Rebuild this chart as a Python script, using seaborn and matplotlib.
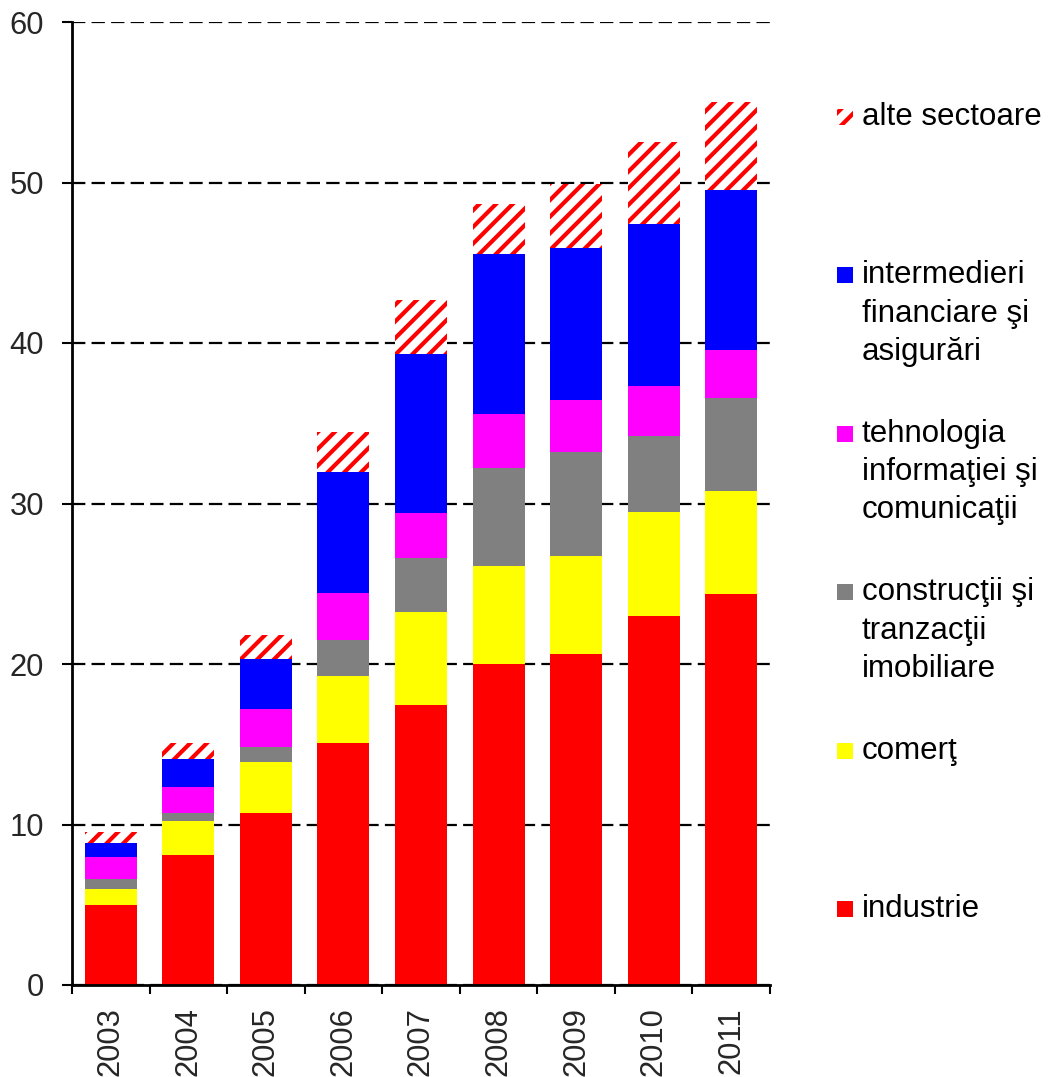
import matplotlib
matplotlib.use("Agg")
import matplotlib.pyplot as plt
from matplotlib.patches import Rectangle
import seaborn as sns
import numpy as np
import pandas as pd

years = ["2003", "2004", "2005", "2006", "2007", "2008", "2009", "2010", "2011"]
industrie = [4.97, 8.07, 10.69, 15.06, 17.43, 20.02, 20.62, 23.01, 24.38]
comert = [1.00, 2.14, 3.19, 4.22, 5.83, 6.10, 6.12, 6.47, 6.37]
constructii = [0.61, 0.48, 0.93, 2.24, 3.36, 6.10, 6.48, 4.73, 5.83]
tehnologia = [1.39, 1.63, 2.37, 2.88, 2.76, 3.38, 3.25, 3.13, 3.00]
financiare = [0.86, 1.75, 3.11, 7.55, 9.94, 9.96, 9.46, 10.09, 9.96]
alte = [0.72, 0.99, 1.49, 2.53, 3.36, 3.11, 3.99, 5.10, 5.48]

series_labels = ["industrie", "comerţ", "construcţii şi\ntranzacţii\nimobiliare",
                 "tehnologia\ninformaţiei şi\ncomunicaţii",
                 "intermedieri\nfinanciare şi\nasigurări", "alte sectoare"]
series_values = [industrie, comert, constructii, tehnologia, financiare, alte]
series_colors = ["#FF0000", "#FFFF00", "#808080", "#FF00FF", "#0000FF", "white"]
yticks = [0, 10, 20, 30, 40, 50, 60]

sns.set_theme(style="white")
plt.rcParams["font.family"] = ["Liberation Sans", "DejaVu Sans"]
plt.rcParams["hatch.linewidth"] = 3.0

W, H = 1048, 1077
fig = plt.figure(figsize=(W / 100, H / 100), dpi=100)
ax = fig.add_axes([72 / W, 1 - 985 / H, (770 - 72) / W, (985 - 22) / H])

cum = np.cumsum(np.array(series_values), axis=0)
df = pd.DataFrame({"year": years})
for i in range(len(series_values) - 1, -1, -1):
    df["v"] = cum[i]
    kws = dict(data=df, x="year", y="v", order=years, ax=ax, width=0.67,
               saturation=1, linewidth=0, errorbar=None)
    if i == len(series_values) - 1:
        sns.barplot(color="white", hatch="//", edgecolor="#FF0000", **kws)
    else:
        sns.barplot(color=series_colors[i], **kws)

ax.set_xlim(-0.5, len(years) - 0.5)
ax.set_ylim(0, 60)
ax.set_yticks(yticks)
ax.set_xlabel("")
ax.set_ylabel("")
ax.set_axisbelow(True)
ax.yaxis.grid(True, color="black", linewidth=1.6, linestyle=(0, (6.0, 2.8)))
ax.xaxis.grid(False)

for s in ["top", "right"]:
    ax.spines[s].set_visible(False)
for s in ["left", "bottom"]:
    ax.spines[s].set_color("black")
    ax.spines[s].set_linewidth(2)

ax.tick_params(axis="y", which="major", direction="out", length=7, width=1.5,
               color="black", labelsize=22.3, pad=13, left=True)
ax.tick_params(axis="x", which="major", length=0, labelsize=22.3, pad=16,
               labelrotation=90, bottom=True)
ax.set_xticks(np.arange(-0.5, len(years)), minor=True)
ax.tick_params(axis="x", which="minor", direction="out", length=6.5, width=1.5,
               color="black", bottom=True)
for lbl in ax.get_xticklabels():
    lbl.set_va("top")
    lbl.set_ha("center")

# Legend (top entry = last series)
def fx(x):
    return x / W

def fy(y):
    return 1 - y / H

legend_order = list(range(len(series_values) - 1, -1, -1))
for k, i in enumerate(legend_order):
    base = 125 + 158.4 * k
    if i == len(series_values) - 1:
        rect = Rectangle((fx(837), fy(base)), 16 / W, 16 / H, transform=fig.transFigure,
                         facecolor="white", hatch="//", edgecolor="#FF0000", linewidth=0)
    else:
        rect = Rectangle((fx(837), fy(base)), 16 / W, 16 / H, transform=fig.transFigure,
                         facecolor=series_colors[i], linewidth=0)
    fig.add_artist(rect)
    for j, line in enumerate(series_labels[i].split("\n")):
        fig.text(fx(862), fy(base + 38.3 * j), line, fontsize=22.5,
                 va="baseline", ha="left", color="black")

fig.savefig("out.png", dpi=100)
